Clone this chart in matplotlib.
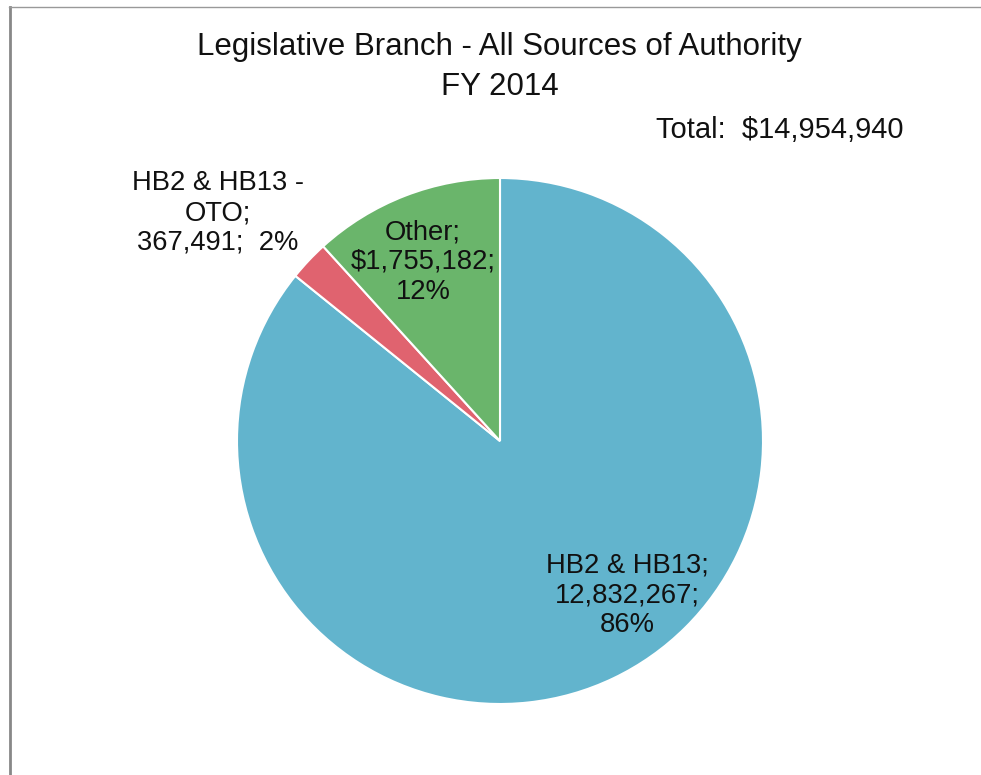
import matplotlib.pyplot as plt
from matplotlib.lines import Line2D

plt.rcParams['font.family'] = ['Liberation Sans', 'DejaVu Sans']

# funding sources, FY 2014
sources = ['HB2 & HB13', 'HB2 & HB13 -\nOTO', 'Other']
amounts = [12832267, 367491, 1755182]
money_sign = ['', '', '$']
colors = ['#62B4CD', '#E0636F', '#6AB56B']

title = 'Legislative Branch - All Sources of Authority\nFY 2014'

W, H = 981, 775
fig = plt.figure(figsize=(W / 100, H / 100), dpi=100)
ax = fig.add_axes([0, 0, 1, 1])

cx, cy, r = 500, 441, 263
ax.pie(amounts, colors=colors, startangle=-90, counterclock=True,
       center=(cx, cy), radius=r, frame=True,
       wedgeprops=dict(edgecolor='white', linewidth=1.5))
ax.set_xlim(0, W)
ax.set_ylim(H, 0)
ax.set_aspect('equal')
ax.axis('off')

total = sum(amounts)
pcts = [round(a / total * 100) for a in amounts]

# label centres and the separator between value and percent
label_pos = [(627, 595), (218, 213), (423, 262)]
sep = [';\n', ';  ', ';\n']
for name, amt, sign, pct, (x, y), s in zip(sources, amounts, money_sign, pcts, label_pos, sep):
    txt = f'{name};\n{sign}{amt:,}{s}{pct}%'
    ax.text(x, y, txt, ha='center', va='center', fontsize=19.7,
            linespacing=1.19, color='#111111')

ax.text(W / 2 + 9, 67, title, ha='center', va='center', fontsize=22.5,
        linespacing=1.42, color='#111111')
ax.text(903, 130, f'Total:  ${total:,}', ha='right', va='center',
        fontsize=21, color='#111111')

# chart frame edges
fig.add_artist(Line2D([9.5 / W, 9.5 / W], [0, 1 - 7 / H], color='#888888', lw=2))
fig.add_artist(Line2D([9 / W, 1], [1 - 7 / H, 1 - 7 / H], color='#999999', lw=1))

fig.savefig('out.png', dpi=100)
